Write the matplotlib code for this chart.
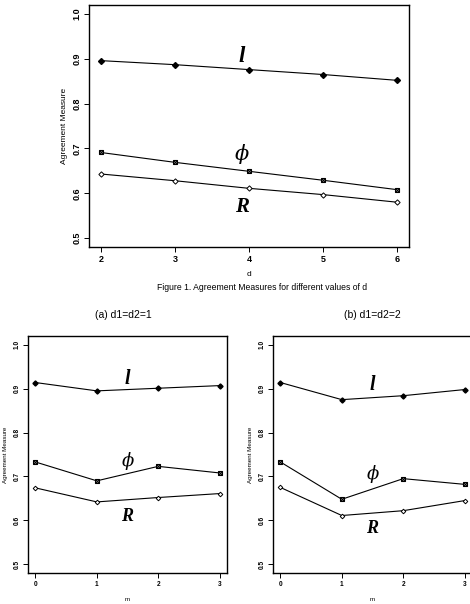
"""Agreement measures for different values of d and m."""
import matplotlib
matplotlib.use("Agg")
import matplotlib.pyplot as plt

plt.rcParams["font.family"] = ["Liberation Sans", "DejaVu Sans"]
plt.rcParams["mathtext.fontset"] = "dejavuserif"

# Figure 1: values against d
d_vals = [2, 3, 4, 5, 6]
l_d = [0.896, 0.887, 0.876, 0.865, 0.852]
phi_d = [0.691, 0.669, 0.649, 0.629, 0.608]
r_d = [0.643, 0.628, 0.611, 0.597, 0.580]

# panels (a) and (b): values against m
m_vals = [0, 1, 2, 3]
l_a = [0.914, 0.895, 0.901, 0.907]
phi_a = [0.733, 0.690, 0.723, 0.708]
r_a = [0.674, 0.642, 0.652, 0.661]
l_b = [0.914, 0.875, 0.884, 0.898]
phi_b = [0.733, 0.648, 0.695, 0.682]
r_b = [0.675, 0.611, 0.622, 0.645]

y_ticks = [0.5, 0.6, 0.7, 0.8, 0.9, 1.0]


def draw(ax, x, l, phi, r, ms, tick_fs, lab_pos, lab_fs):
    kw = dict(color="black", lw=0.8)
    ax.plot(x, l, marker="D", ms=ms, mfc="black", mec="black", **kw)
    ax.plot(x, phi, marker="s", ms=ms, mfc="white", mec="black", mew=0.8, **kw)
    ax.plot(x, phi, ls="none", marker="x", ms=ms, mec="black", mew=0.8)
    ax.plot(x, r, marker="D", ms=ms * 0.9, mfc="white", mec="black", mew=0.7, **kw)
    (lx, ly), (px, py), (rx, ry) = lab_pos
    ax.text(lx, ly, "l", family="Liberation Serif", style="italic", weight="bold",
            fontsize=lab_fs * 1.1, ha="center", va="center")
    ax.text(px, py, r"$\phi$", fontsize=lab_fs, ha="center", va="center")
    ax.text(rx, ry, "R", family="Liberation Serif", style="italic", weight="bold",
            fontsize=lab_fs, ha="center", va="center")
    ax.set_ylim(0.48, 1.02)
    ax.set_yticks(y_ticks)
    ax.set_yticklabels([f"{v:.1f}" for v in y_ticks], rotation=90, va="center",
                       fontsize=tick_fs, fontweight="bold")
    ax.set_xticks(x)
    ax.set_xticklabels([str(v) for v in x], fontsize=tick_fs, fontweight="bold")
    ax.tick_params(direction="out", length=3.5, width=0.7, pad=2)
    for s in ax.spines.values():
        s.set_linewidth(1.0)


fig = plt.figure(figsize=(4.7, 6.04), dpi=100)

ax1 = fig.add_axes([0.1894, 0.591, 0.681, 0.4006])
draw(ax1, d_vals, l_d, phi_d, r_d, 3.0, 6.5,
     [(3.9, 0.905), (3.9, 0.688), (3.9, 0.570)], 15)
ax1.set_xlim(1.84, 6.16)
ax1.set_xlabel("d", fontsize=6, labelpad=5)
ax1.set_ylabel("Agreement Measure", fontsize=6, labelpad=3)
fig.text(0.558, 1 - 287 / 604, "Figure 1. Agreement Measures for different values of d",
         fontsize=6.2, ha="center", va="center")

ax2 = fig.add_axes([0.0596, 0.0513, 0.4234, 0.3924])
draw(ax2, m_vals, l_a, phi_a, r_a, 2.6, 4.7,
     [(1.5, 0.921), (1.5, 0.736), (1.5, 0.608)], 13)
ax2.set_xlim(-0.12, 3.12)
ax2.set_xlabel("m", fontsize=4.5, labelpad=7)
ax2.set_ylabel("Agreement Measure", fontsize=4.5, labelpad=4)
fig.text(123 / 470, 1 - 315 / 604, "(a) d1=d2=1", fontsize=7.5, ha="center", va="center")

ax3 = fig.add_axes([0.5809, 0.0513, 0.4234, 0.3924])
draw(ax3, m_vals, l_b, phi_b, r_b, 2.6, 4.7,
     [(1.5, 0.908), (1.5, 0.705), (1.5, 0.582)], 13)
ax3.set_xlim(-0.12, 3.12)
ax3.set_xlabel("m", fontsize=4.5, labelpad=7)
ax3.set_ylabel("Agreement Measure", fontsize=4.5, labelpad=4)
fig.text(372 / 470, 1 - 315 / 604, "(b) d1=d2=2", fontsize=7.5, ha="center", va="center")

fig.savefig("out.png", dpi=100)
